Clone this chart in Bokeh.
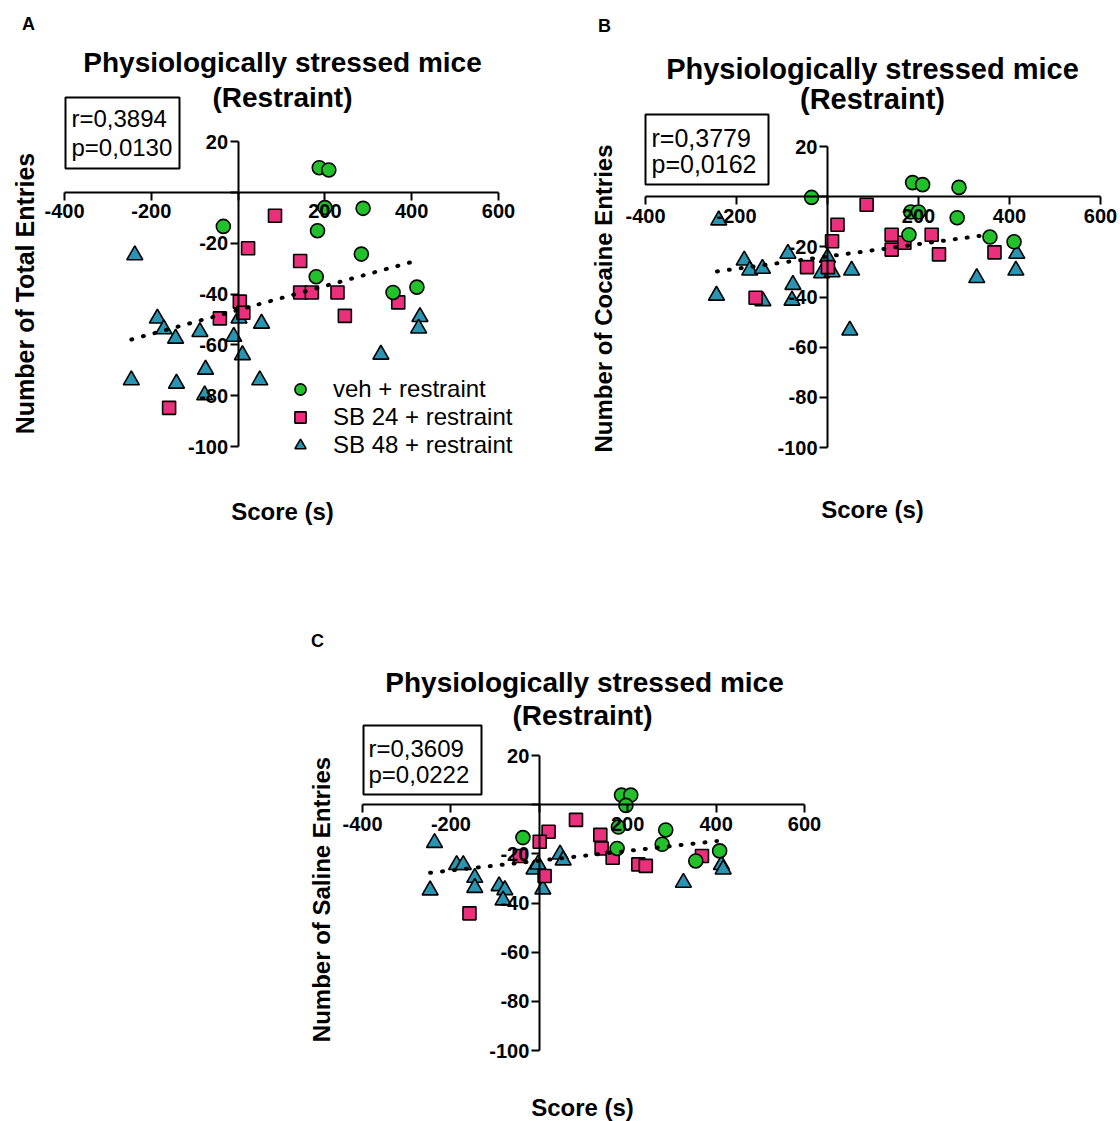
import math
from bokeh.plotting import figure
from bokeh.models import Range1d, FixedTicker, Label, BoxAnnotation, Legend, LegendItem, Spacer
from bokeh.layouts import row, column
from bokeh.embed import file_html
from bokeh.resources import INLINE

FONT = "Liberation Sans"
GREEN = "#22c02a"
PINK = "#ec2f7d"
TEAL = "#2a95b2"

x_ticks = [-400, -200, 0, 200, 400, 600]
y_ticks = [-100, -80, -60, -40, -20, 0, 20]
legend_labels = ["veh + restraint", "SB 24 + restraint", "SB 48 + restraint"]

# ---------------- Panel A: total entries ----------------
veh_A_x = [187, 209, 200, 288, -34, 183, 284, 180, 357, 412]
veh_A_y = [9.7, 8.8, -6.0, -6.3, -13.4, -15.1, -24.3, -33.2, -39.4, -37.3]
sb24_A_x = [85, 23, 143, 143, 170, 229, 246, 369, 4, 12, -42, -159]
sb24_A_y = [-9.2, -22.0, -27.0, -39.4, -39.4, -39.4, -48.6, -43.3, -43.0, -47.4, -49.6, -84.8]
sb48_A_x = [-238, -186, -171, -144, -88, -10, 2, 54, 10, -246, -142, -75, -77, 50, 329, 419, 416]
sb48_A_y = [-24.7, -49.6, -53.8, -57.5, -54.9, -56.8, -49.6, -51.6, -64.0, -73.9, -75.2, -69.7, -79.8, -73.9, -63.8, -49.0, -53.5]
fit_A_x = [-246, 396]
fit_A_y = [-57.9, -27.6]

# ---------------- Panel B: cocaine entries ----------------
veh_B_x = [-35, 187, 209, 289, 183, 200, 285, 179, 357, 410]
veh_B_y = [-0.3, 5.6, 4.8, 3.7, -6.1, -6.1, -8.4, -15.2, -16.1, -18.0]
sb24_B_x = [86, 22, 10, 141, 141, 169, 229, 245, 367, -45, 1, -158]
sb24_B_y = [-3.2, -11.2, -17.8, -15.2, -21.1, -18.4, -15.2, -23.0, -22.2, -28.1, -28.1, -40.3]
sb48_B_x = [-239, -244, -183, -171, -143, -142, -87, -76, -78, 0, -13, 10, 53, 49, 328, 416, 414]
sb48_B_y = [-9.4, -39.4, -25.4, -29.4, -28.7, -41.6, -22.7, -35.1, -41.4, -24.3, -30.5, -30.1, -29.4, -53.3, -32.4, -22.7, -29.4]
fit_B_x = [-243, 348]
fit_B_y = [-29.8, -15.3]

# ---------------- Panel C: saline entries ----------------
veh_C_x = [186, 207, 196, 179, 286, -37, 176, 278, 408, 354]
veh_C_y = [3.9, 3.9, -0.3, -9.1, -10.3, -13.4, -17.8, -16.1, -18.8, -22.9]
sb24_C_x = [83, 21, 1, 138, 141, 166, 224, 241, 368, -44, 12, -158]
sb24_C_y = [-6.2, -11.0, -15.1, -12.3, -17.8, -21.6, -24.3, -24.9, -20.9, -20.9, -29.0, -44.2]
sb48_C_x = [-237, -247, -187, -172, -146, -146, -91, -78, -82, -12, -3, 8, 47, 54, 326, 412, 416]
sb48_C_y = [-15.5, -34.8, -24.5, -24.5, -29.7, -33.8, -33.1, -34.7, -38.9, -26.3, -24.3, -34.4, -20.2, -22.6, -31.7, -24.5, -26.3]
fit_C_x = [-247, 402]
fit_C_y = [-27.7, -14.8]


def build(box, anch, series, fit, texts, stats, legend_loc=None):
    L, T, W, H = box
    x0p, x1p, y0p, y1p = anch  # page px of x=-400, x=600, y=20, y=-100
    sx = (x1p - x0p) / 1000.0
    sy = (y1p - y0p) / 120.0
    xs = -400 - (x0p - L) / sx
    xe = xs + W / sx
    ye = 20 + (y0p - T) / sy
    ys = ye - H / sy

    def X(px):
        return xs + (px - L) / sx

    def Y(py):
        return ye - (py - T) / sy

    p = figure(width=W, height=H, x_range=Range1d(xs, xe), y_range=Range1d(ys, ye),
               output_backend="svg", toolbar_location=None, min_border=0,
               outline_line_color=None)
    p.grid.visible = False
    for ax, ticks, bnds in ((p.xaxis, x_ticks, (-400, 600)), (p.yaxis, y_ticks, (-100, 20))):
        ax.fixed_location = 0
        ax.bounds = bnds
        ax.ticker = FixedTicker(ticks=ticks)
        ax.major_label_overrides = {t: ("" if t == 0 else str(t)) for t in ticks}
        ax.axis_line_width = 2
        ax.axis_line_color = "black"
        ax.major_tick_line_width = 2
        ax.major_tick_line_color = "black"
        ax.major_tick_out = 8
        ax.major_tick_in = 0
        ax.minor_tick_out = 0
        ax.minor_tick_in = 0
        ax.major_label_text_font = FONT
        ax.major_label_text_font_style = "bold"
        ax.major_label_text_font_size = "20px"
        ax.major_label_text_color = "black"
    p.xaxis.major_label_standoff = 4
    p.yaxis.major_label_standoff = 2

    (vx, vy), (px_, py_), (tx, ty) = series
    r3 = p.scatter(tx, ty, marker="triangle", size=16, fill_color=TEAL, line_color="black", line_width=1.6)
    r2 = p.scatter(px_, py_, marker="square", size=13, fill_color=PINK, line_color="black", line_width=1.6)
    r1 = p.scatter(vx, vy, marker="circle", size=14, fill_color=GREEN, line_color="black", line_width=1.6)
    p.line(fit[0], fit[1], line_color="black", line_width=4, line_dash="1 11", line_cap="round")

    for (txt, px, py, size, bold, align, angle) in texts:
        p.add_layout(Label(x=X(px), y=Y(py), text=txt, text_font=FONT, text_font_size=size,
                           text_font_style="bold" if bold else "normal", text_align=align,
                           text_baseline="middle", text_color="black", angle=angle))

    (bl, bt, br, bb), lines, ssize = stats
    p.add_layout(BoxAnnotation(left=X(bl), right=X(br), top=Y(bt), bottom=Y(bb),
                               fill_alpha=0, line_color="black", line_width=2, line_alpha=1))
    for (txt, px, py) in lines:
        p.add_layout(Label(x=X(px), y=Y(py), text=txt, text_font=FONT, text_font_size=ssize,
                           text_align="left", text_baseline="middle", text_color="black"))

    if legend_loc is not None:
        leg = Legend(items=[LegendItem(label=legend_labels[0], renderers=[r1]),
                            LegendItem(label=legend_labels[1], renderers=[r2]),
                            LegendItem(label=legend_labels[2], renderers=[r3])],
                     location=legend_loc, border_line_color=None, background_fill_alpha=0,
                     label_text_font=FONT, label_text_font_size="24px", label_text_color="black",
                     glyph_width=28, glyph_height=28, label_height=28, spacing=0, padding=0,
                     margin=0, label_standoff=19)
        p.add_layout(leg)
    return p


V = math.pi / 2
pA = build((0, 0, 572, 592), (64, 498, 141, 446),
           ((veh_A_x, veh_A_y), (sb24_A_x, sb24_A_y), (sb48_A_x, sb48_A_y)), (fit_A_x, fit_A_y),
           [("A", 28, 23, "18px", True, "center", 0),
            ("Physiologically stressed mice", 282, 62, "28px", True, "center", 0),
            ("(Restraint)", 282, 97, "28px", True, "center", 0),
            ("Number of Total Entries", 24, 293, "25px", True, "center", V),
            ("Score (s)", 282, 511, "24px", True, "center", 0)],
           ((65, 97, 179, 168), [("r=0,3894", 71, 118), ("p=0,0130", 71, 147)], "24px"),
           legend_loc=(286, 133))

pB = build((572, 0, 548, 592), (645, 1100, 146, 447),
           ((veh_B_x, veh_B_y), (sb24_B_x, sb24_B_y), (sb48_B_x, sb48_B_y)), (fit_B_x, fit_B_y),
           [("B", 604, 25, "18px", True, "center", 0),
            ("Physiologically stressed mice", 872, 68, "29px", True, "center", 0),
            ("(Restraint)", 872, 98, "29px", True, "center", 0),
            ("Number of Cocaine Entries", 603, 298, "24px", True, "center", V),
            ("Score (s)", 872, 509, "24px", True, "center", 0)],
           ((645, 114, 768, 184), [("r=0,3779", 651, 137), ("p=0,0162", 651, 163)], "25px"))

pC = build((290, 592, 540, 529), (362, 804, 755, 1050),
           ((veh_C_x, veh_C_y), (sb24_C_x, sb24_C_y), (sb48_C_x, sb48_C_y)), (fit_C_x, fit_C_y),
           [("C", 317, 640, "18px", True, "center", 0),
            ("Physiologically stressed mice", 584, 682, "28px", True, "center", 0),
            ("(Restraint)", 582, 715, "28px", True, "center", 0),
            ("Number of Saline Entries", 321, 899, "24px", True, "center", V),
            ("Score (s)", 582, 1107, "24px", True, "center", 0)],
           ((363, 725, 481, 794), [("r=0,3609", 368, 748), ("p=0,0222", 368, 774)], "24px"))

layout = column(row(pA, pB), row(Spacer(width=290, height=529), pC))
open("out.html", "w").write(file_html(layout, INLINE))
